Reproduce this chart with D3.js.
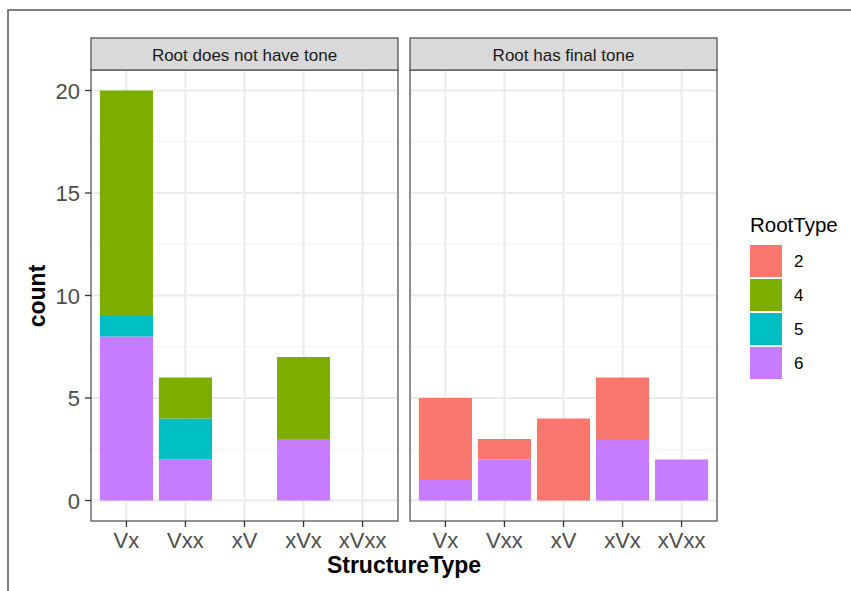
<!DOCTYPE html>
<html><head><meta charset="utf-8">
<script src="https://cdn.jsdelivr.net/npm/d3@7"></script>
<style>body{margin:0;background:#fff;} text{font-family:"Liberation Sans",Arial,sans-serif;}</style>
</head><body>
<svg id="c" width="851" height="591"></svg>
<script>
const categories = ["Vx","Vxx","xV","xVx","xVxx"];
const panels = ["Root does not have tone","Root has final tone"];
const rootTypes = ["2","4","5","6"];
const colors = ["#F8766D","#7CAE00","#00BFC4","#C77CFF"];
// counts per panel, per root type, per category
const noTone = {"2":[0,0,0,0,0],"4":[11,2,0,4,0],"5":[1,2,0,0,0],"6":[8,2,0,3,0]};
const finalTone = {"2":[4,1,4,3,0],"4":[0,0,0,0,0],"5":[0,0,0,0,0],"6":[1,2,0,3,2]};
const panelData = [noTone, finalTone];
const yTicks = [0,5,10,15,20];

const svg = d3.select("#c");
// outer frame
svg.append("path").attr("d","M8,591 L8,10 L851,10").attr("fill","none").attr("stroke","#555").attr("stroke-width",1.5);

const panelX = [91, 410], panelW = 307, pTop = 70, pBottom = 521, stripTop = 38;
const y = d3.scaleLinear().domain([-1,21]).range([pBottom, pTop]);
const color = d3.scaleOrdinal().domain(rootTypes).range(colors);

panelData.forEach((pd, pi) => {
  const x0 = panelX[pi];
  const x = d3.scalePoint().domain(categories).range([x0 + panelW*0.6/5.2, x0 + panelW*4.6/5.2]);
  const step = panelW / 5.2;
  const cx = c => x(c);
  const bw = step*0.9;
  const g = svg.append("g");
  g.append("rect").attr("x",x0).attr("y",pTop).attr("width",panelW).attr("height",pBottom-pTop).attr("fill","#fff");
  // minor grid
  [2.5,7.5,12.5,17.5].forEach(v=>{
    g.append("line").attr("x1",x0).attr("x2",x0+panelW).attr("y1",y(v)).attr("y2",y(v)).attr("stroke","#f2f2f2").attr("stroke-width",1);
  });
  yTicks.forEach(v=>{
    g.append("line").attr("x1",x0).attr("x2",x0+panelW).attr("y1",y(v)).attr("y2",y(v)).attr("stroke","#ebebeb").attr("stroke-width",2);
  });
  categories.forEach(c=>{
    g.append("line").attr("x1",cx(c)).attr("x2",cx(c)).attr("y1",pTop).attr("y2",pBottom).attr("stroke","#ebebeb").attr("stroke-width",2);
  });
  // stacked bars: bottom is last level (6), top first level (2)
  const rows = categories.map((c,ci)=>{const o={cat:c}; rootTypes.forEach(r=>o[r]=pd[r][ci]); return o;});
  const stack = d3.stack().keys(rootTypes.slice().reverse());
  const series = stack(rows);
  series.forEach(s=>{
    g.selectAll(null).data(s.filter(d=>d[1]-d[0]>0)).enter().append("rect")
      .attr("x",d=>cx(d.data.cat)-bw/2).attr("width",bw)
      .attr("y",d=>y(d[1])).attr("height",d=>y(d[0])-y(d[1]))
      .attr("fill",color(s.key));
  });
  // border
  g.append("rect").attr("x",x0).attr("y",pTop).attr("width",panelW).attr("height",pBottom-pTop).attr("fill","none").attr("stroke","#555").attr("stroke-width",1.3);
  // strip
  g.append("rect").attr("x",x0).attr("y",stripTop).attr("width",panelW).attr("height",pTop-stripTop).attr("fill","#d9d9d9").attr("stroke","#555").attr("stroke-width",1.3);
  g.append("text").attr("x",x0+panelW/2).attr("y",61).attr("text-anchor","middle").attr("font-size",17).attr("fill","#1a1a1a").text(panels[pi]);
  // x axis ticks
  categories.forEach(c=>{
    g.append("line").attr("x1",cx(c)).attr("x2",cx(c)).attr("y1",pBottom).attr("y2",pBottom+6).attr("stroke","#333").attr("stroke-width",1.3);
    g.append("text").attr("x",cx(c)).attr("y",pBottom+27).attr("text-anchor","middle").attr("font-size",22).attr("fill","#4d4d4d").text(c);
  });
});

// y axis
const ya = svg.append("g");
yTicks.forEach(v=>{
  ya.append("line").attr("x1",85).attr("x2",91).attr("y1",y(v)).attr("y2",y(v)).attr("stroke","#333").attr("stroke-width",1.3);
  ya.append("text").attr("x",80).attr("y",y(v)+8).attr("text-anchor","end").attr("font-size",22).attr("fill","#4d4d4d").text(v);
});
svg.append("text").attr("transform","translate(45,296) rotate(-90)").attr("text-anchor","middle").attr("font-size",23).attr("font-weight","bold").attr("fill","#000").text("count");
svg.append("text").attr("x",404).attr("y",573).attr("text-anchor","middle").attr("font-size",23).attr("font-weight","bold").attr("fill","#000").text("StructureType");

// legend
const lg = svg.append("g");
lg.append("text").attr("x",750).attr("y",232).attr("font-size",20.5).attr("fill","#000").text("RootType");
rootTypes.forEach((r,i)=>{
  const yy = 245 + i*34;
  lg.append("rect").attr("x",750).attr("y",yy).attr("width",32).attr("height",32).attr("fill",color(r));
  lg.append("text").attr("x",794).attr("y",yy+22).attr("font-size",17).attr("fill","#000").text(r);
});
</script>
</body></html>
